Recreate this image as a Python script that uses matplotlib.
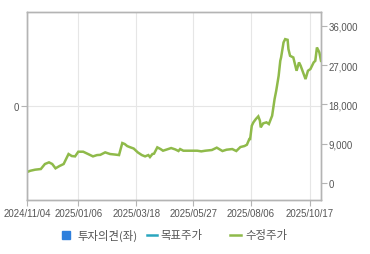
import matplotlib
matplotlib.use("Agg")
import matplotlib.pyplot as plt
from matplotlib.lines import Line2D
from matplotlib.patches import Rectangle
import numpy as np

dates = [
    "2024-11-04", "2024-11-08", "2024-11-14", "2024-11-21", "2024-11-26", "2024-12-01",
    "2024-12-05", "2024-12-09", "2024-12-14", "2024-12-19", "2024-12-22", "2024-12-25",
    "2024-12-29", "2025-01-02", "2025-01-06", "2025-01-12", "2025-01-18", "2025-01-24",
    "2025-01-29", "2025-02-02", "2025-02-08", "2025-02-14", "2025-02-20", "2025-02-25",
    "2025-03-01", "2025-03-04", "2025-03-07", "2025-03-10", "2025-03-15", "2025-03-20",
    "2025-03-25", "2025-03-29", "2025-04-02", "2025-04-04", "2025-04-07", "2025-04-09",
    "2025-04-13", "2025-04-17", "2025-04-20", "2025-04-25", "2025-04-30", "2025-05-05",
    "2025-05-09", "2025-05-11", "2025-05-15", "2025-05-24", "2025-06-01", "2025-06-06",
    "2025-06-11", "2025-06-19", "2025-06-25", "2025-07-02", "2025-07-07", "2025-07-14",
    "2025-07-19", "2025-07-24", "2025-07-29", "2025-08-01", "2025-08-04", "2025-08-05",
    "2025-08-07", "2025-08-09", "2025-08-12", "2025-08-15", "2025-08-17", "2025-08-18",
    "2025-08-21", "2025-08-25", "2025-08-28", "2025-09-01", "2025-09-04", "2025-09-06",
    "2025-09-09", "2025-09-11", "2025-09-12", "2025-09-15", "2025-09-17", "2025-09-20",
    "2025-09-21", "2025-09-23", "2025-09-27", "2025-10-01", "2025-10-04", "2025-10-06",
    "2025-10-09", "2025-10-12", "2025-10-15", "2025-10-18", "2025-10-22", "2025-10-24",
    "2025-10-26", "2025-10-29", "2025-10-31",
]
adj_price = [
    2500, 2800, 3050, 3200, 4350, 4730,
    4350, 3360, 3900, 4350, 5500, 6640,
    6180, 6100, 7170, 7170, 6640, 6100,
    6400, 6450, 7020, 6640, 6520, 6400,
    9160, 8930, 8470, 8240, 7900, 7020,
    6400, 6100, 6400, 5950, 6640, 6720,
    8170, 7780, 7400, 7700, 8010, 7700,
    7330, 7780, 7400, 7400, 7400, 7250,
    7400, 7560, 8100, 7330, 7630, 7780,
    7330, 8240, 8470, 8770, 10080, 10080,
    13120, 13900, 14660, 15270, 14280, 12750,
    13670, 13900, 13510, 15420, 19240, 21140,
    24570, 28010, 28780, 32220, 32980, 32820,
    30690, 29160, 28780, 25730, 27640, 26880,
    25350, 23820, 25730, 26120, 27640, 28010,
    31070, 29920, 28010,
]
x_ticks = ["2024-11-04", "2025-01-06", "2025-03-18", "2025-05-27", "2025-08-06", "2025-10-17"]
y_right_ticks = [0, 9000, 18000, 27000, 36000]
legend_labels = ["투자의견(좌)", "목표주가", "수정주가"]

dt = np.array(dates, dtype="datetime64[D]").astype("O")
xt = np.array(x_ticks, dtype="datetime64[D]").astype("O")

fig = plt.figure(figsize=(3.7, 2.55), dpi=100)
ax = fig.add_axes([27/370, 1 - 201/255, (321-27)/370, (201-13)/255])
ax2 = ax.twinx()

grid_c = "#e6e6e6"
spine_c = "#b4b4b4"
txt_c = "#555555"
green = "#8fba4a"

ax.set_ylim(-1, 1)
ax.set_yticks([0])
ax.set_yticklabels(["0"])
ax.set_xlim(np.datetime64("2024-11-04").astype("O"), np.datetime64("2025-10-31").astype("O"))
ax.set_xticks(xt)
ax.set_xticklabels([t.replace("-", "/") for t in x_ticks])
ax.grid(True, color=grid_c, linewidth=0.8)
ax.set_axisbelow(True)

ax2.plot(dt, adj_price, color=green, linewidth=1.8, solid_joinstyle="miter")
ax2.set_ylim(-3900, 39200)
ax2.set_yticks(y_right_ticks)
ax2.set_yticklabels([f"{v:,}" for v in y_right_ticks])

for a in (ax, ax2):
    for s in a.spines.values():
        s.set_color(spine_c)
        s.set_linewidth(1.0)
    a.tick_params(colors=spine_c, length=4, width=0.8, labelcolor=txt_c, labelsize=6.9, pad=1.5)
    for lab in a.get_xticklabels() + a.get_yticklabels():
        lab.set_family(["Liberation Sans", "DejaVu Sans"])

# legend drawn manually
fy = 1 - 236/255
kfont = ["Noto Sans CJK KR", "DejaVu Sans"]
fig.add_artist(Rectangle((62/370, 1 - 240/255), 8/370, 8/255, color="#2e7fdc", transform=fig.transFigure))
fig.text(77/370, fy, legend_labels[0], ha="left", va="center", fontsize=8.2, color=txt_c, family=kfont)
fig.add_artist(Line2D([147/370, 157/370], [fy, fy], color="#2aa6bf", linewidth=1.8, transform=fig.transFigure))
fig.text(160/370, fy, legend_labels[1], ha="left", va="center", fontsize=8.2, color=txt_c, family=kfont)
fig.add_artist(Line2D([230/370, 241/370], [fy, fy], color=green, linewidth=1.8, transform=fig.transFigure))
fig.text(245/370, fy, legend_labels[2], ha="left", va="center", fontsize=8.2, color=txt_c, family=kfont)

fig.savefig("out.png", dpi=100)
